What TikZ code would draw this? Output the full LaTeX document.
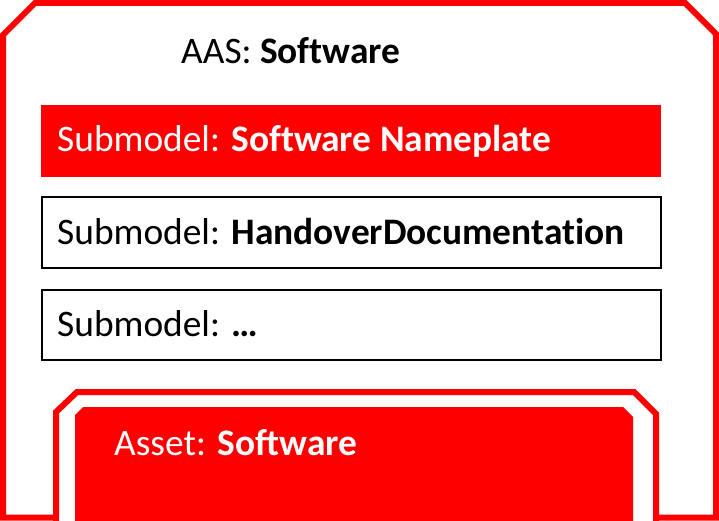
\documentclass[tikz,border=0pt]{standalone}
\usepackage{fontspec}
\setmainfont{Carlito}[Ligatures={NoCommon}]
\definecolor{aasred}{RGB}{255,0,0}
\begin{document}
\begin{tikzpicture}[x=1pt,y=-1pt,
  redline/.style={draw=aasred, line width=6pt, line join=miter},
  lbl/.style={anchor=base west, inner sep=0pt, font=\fontsize{37.4}{42}\selectfont},
  redbox/.style={fill=aasred, draw=none, minimum width=620pt, minimum height=72pt, inner sep=0pt, anchor=north west},
  subbox/.style={draw=black, line width=2pt, fill=white, minimum width=619pt, minimum height=70.5pt, inner sep=0pt, anchor=north west}]
\useasboundingbox (0,0) rectangle (719,521);
\clip (0,0) rectangle (719,521);
% outer AAS frame
\draw[redline] (3,517.5) -- (3,35) -- (35,3) -- (685,3) -- (716,34) -- (716,517.5) -- cycle;
% submodel boxes
\node[redbox] (sm1) at (41,105) {};
\node[subbox] (sm2) at (41,196) {};
\node[subbox] (sm3) at (41,288.5) {};
% asset frame
\draw[redline, fill=white] (56,530) -- (56,412) -- (77,392) -- (634,392) -- (656,414) -- (656,530);
\fill[aasred] (75,530) -- (75,415) -- (83,407) -- (623,407) -- (633,417) -- (633,530) -- cycle;
% labels
\node[lbl] (aas) at (181,64) {AAS: \textbf{Software}};
\node[lbl, text=white] (l1) at (57,152) {Submodel: \textbf{Software Nameplate}};
\node[lbl] (l2) at (57,244) {Submodel: \textbf{HandoverDocumentation}};
\node[lbl] (l3) at (57,336) {Submodel: \textbf{\dots}};
\node[lbl, text=white] (asset) at (114,455) {Asset: \textbf{Software}};
\end{tikzpicture}
\end{document}
